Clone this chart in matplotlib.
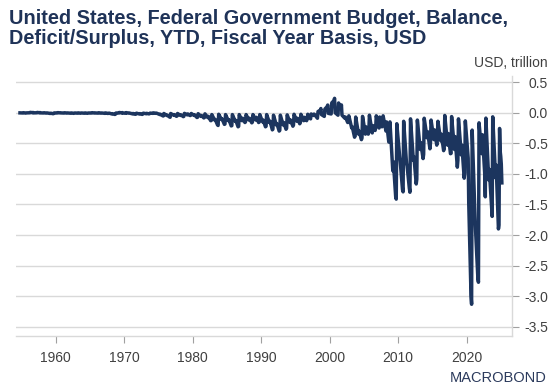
import numpy as np
import matplotlib.pyplot as plt

# Federal budget balance, YTD (fiscal year), USD trillion
# per fiscal year: values read at Oct, Mar, Apr, Aug, Sep
fiscal_years = list(range(1955, 2025))
ytd_oct = [-0.002, -0.002, -0.002, -0.002, -0.004, -0.003, -0.003, -0.004, -0.004, -0.004,
           -0.004, -0.004, -0.005, -0.006, -0.005, -0.005, -0.006, -0.007, -0.007, -0.006,
           -0.010, -0.012, -0.012, -0.012, -0.010, -0.012, -0.015, -0.018, -0.030, -0.025,
           -0.030, -0.030, -0.030, -0.030, -0.030, -0.030, -0.030, -0.040, -0.040, -0.035,
           -0.025, -0.025, -0.025, -0.030, -0.030, -0.010, 0.000, -0.040, -0.050, -0.070,
           -0.060, -0.040, -0.050, -0.050, -0.150, -0.180, -0.140, -0.100, -0.120, -0.090,
           -0.120, -0.140, -0.045, -0.063, -0.100, -0.134, -0.284, -0.165, -0.088, -0.067]
ytd_mar = [-0.004, -0.001, -0.001, -0.004, -0.012, -0.004, -0.005, -0.008, -0.007, -0.008,
           -0.005, -0.006, -0.010, -0.020, -0.004, -0.008, -0.018, -0.020, -0.016, -0.010,
           -0.030, -0.045, -0.040, -0.045, -0.035, -0.045, -0.060, -0.080, -0.120, -0.110,
           -0.130, -0.140, -0.130, -0.120, -0.120, -0.150, -0.160, -0.200, -0.200, -0.160,
           -0.140, -0.130, -0.100, -0.090, -0.060, -0.020, -0.040, -0.090, -0.250, -0.350,
           -0.350, -0.330, -0.250, -0.300, -0.950, -0.720, -0.830, -0.780, -0.600, -0.410,
           -0.440, -0.460, -0.530, -0.600, -0.690, -0.743, -1.710, -0.670, -1.100, -1.065]
ytd_apr = [0.001, 0.006, 0.005, 0.000, -0.008, 0.002, 0.000, -0.003, -0.002, -0.003,
           0.001, 0.000, -0.003, -0.015, 0.004, 0.002, -0.012, -0.014, -0.010, -0.002,
           -0.025, -0.040, -0.030, -0.035, -0.020, -0.035, -0.045, -0.060, -0.110, -0.100,
           -0.115, -0.125, -0.090, -0.090, -0.075, -0.120, -0.140, -0.180, -0.160, -0.120,
           -0.090, -0.075, -0.020, 0.020, 0.060, 0.160, 0.160, -0.070, -0.230, -0.300,
           -0.230, -0.210, -0.070, -0.150, -0.800, -0.800, -0.870, -0.720, -0.490, -0.310,
           -0.280, -0.350, -0.340, -0.390, -0.530, -1.480, -1.930, -0.360, -0.925, -0.855]
ytd_aug = [-0.006, 0.001, 0.000, -0.006, -0.016, -0.002, -0.006, -0.010, -0.008, -0.009,
           -0.004, -0.007, -0.012, -0.028, -0.002, -0.006, -0.026, -0.027, -0.019, -0.010,
           -0.050, -0.070, -0.058, -0.064, -0.046, -0.078, -0.085, -0.130, -0.200, -0.190,
           -0.215, -0.230, -0.160, -0.165, -0.160, -0.230, -0.280, -0.300, -0.270, -0.220,
           -0.180, -0.130, -0.045, 0.040, 0.100, 0.200, 0.080, -0.160, -0.400, -0.440,
           -0.350, -0.290, -0.230, -0.480, -1.370, -1.260, -1.240, -1.165, -0.750, -0.590,
           -0.530, -0.620, -0.670, -0.890, -1.070, -3.000, -2.710, -1.000, -1.520, -1.900]
ytd_sep = [-0.003, 0.004, 0.003, -0.003, -0.013, 0.000, -0.003, -0.007, -0.005, -0.006,
           -0.001, -0.004, -0.009, -0.025, 0.003, -0.003, -0.023, -0.023, -0.015, -0.006,
           -0.053, -0.074, -0.054, -0.059, -0.041, -0.074, -0.079, -0.128, -0.208, -0.185,
           -0.212, -0.221, -0.150, -0.155, -0.153, -0.221, -0.269, -0.290, -0.255, -0.203,
           -0.164, -0.107, -0.022, 0.069, 0.126, 0.236, 0.128, -0.158, -0.378, -0.413,
           -0.318, -0.248, -0.161, -0.459, -1.413, -1.294, -1.300, -1.087, -0.680, -0.485,
           -0.438, -0.585, -0.665, -0.779, -0.984, -3.132, -2.772, -1.375, -1.695, -1.833]

# FY2025 so far (Oct 2024 - Feb 2025)
fy2025_months = ['2024-10', '2024-11', '2024-12', '2025-01', '2025-02']
fy2025_ytd = [-0.257, -0.624, -0.711, -0.840, -1.147]

yticks = [0.5, 0.0, -0.5, -1.0, -1.5, -2.0, -2.5, -3.0, -3.5]
xticks = [1960, 1970, 1980, 1990, 2000, 2010, 2020]

# build the date axis (decimal years, mid-month)
x, y = [], []
for i, f in enumerate(fiscal_years):
    x += [f - 1 + 9.5 / 12, f + 2.5 / 12, f + 3.5 / 12, f + 7.5 / 12, f + 8.5 / 12]
    y += [ytd_oct[i], ytd_mar[i], ytd_apr[i], ytd_aug[i], ytd_sep[i]]
for m, v in zip(fy2025_months, fy2025_ytd):
    yr, mo = m.split('-')
    x.append(int(yr) + (int(mo) - 0.5) / 12)
    y.append(v)

plt.rcParams['font.family'] = ['Liberation Sans', 'DejaVu Sans']
plt.rcParams['axes.unicode_minus'] = False

navy = '#1c355e'
grid_c = '#d9d9d9'
txt_c = '#404040'

fig = plt.figure(figsize=(5.53, 3.92), dpi=100)
ax = fig.add_axes([0.0288, 0.143, 0.897, 0.663])

ax.plot(x, y, color=navy, linewidth=2.5, solid_joinstyle='round')

ax.set_xlim(1954.2, 2026.6)
ax.set_ylim(-3.65, 0.6)
ax.set_xticks(xticks)
ax.set_yticks(yticks)
ax.set_yticklabels([f'{v:.1f}' for v in yticks])

ax.yaxis.tick_right()
ax.grid(axis='y', color=grid_c, linewidth=1)
ax.set_axisbelow(True)
for s in ['top', 'left']:
    ax.spines[s].set_visible(False)
for s in ['right', 'bottom']:
    ax.spines[s].set_color(grid_c)
    ax.spines[s].set_linewidth(1)

ax.tick_params(axis='x', colors=txt_c, labelsize=10, length=5, color='#a0a0a0', pad=6)
ax.tick_params(axis='y', colors=txt_c, labelsize=10, length=5, color='#a0a0a0', pad=21)
for lab in ax.get_yticklabels():
    lab.set_horizontalalignment('right')

fig.text(0.016, 0.977, 'United States, Federal Government Budget, Balance,\nDeficit/Surplus, YTD, Fiscal Year Basis, USD',
         fontsize=14.3, fontweight='bold', color='#1f3358', ha='left', va='top', linespacing=1.08)
fig.text(0.99, 0.828, 'USD, trillion', fontsize=10, color=txt_c, ha='right', va='baseline')
fig.text(0.988, 0.025, 'MACROBOND', fontsize=10.5, color='#2b3a5c', ha='right', va='baseline')

plt.savefig('out.png', dpi=100)
